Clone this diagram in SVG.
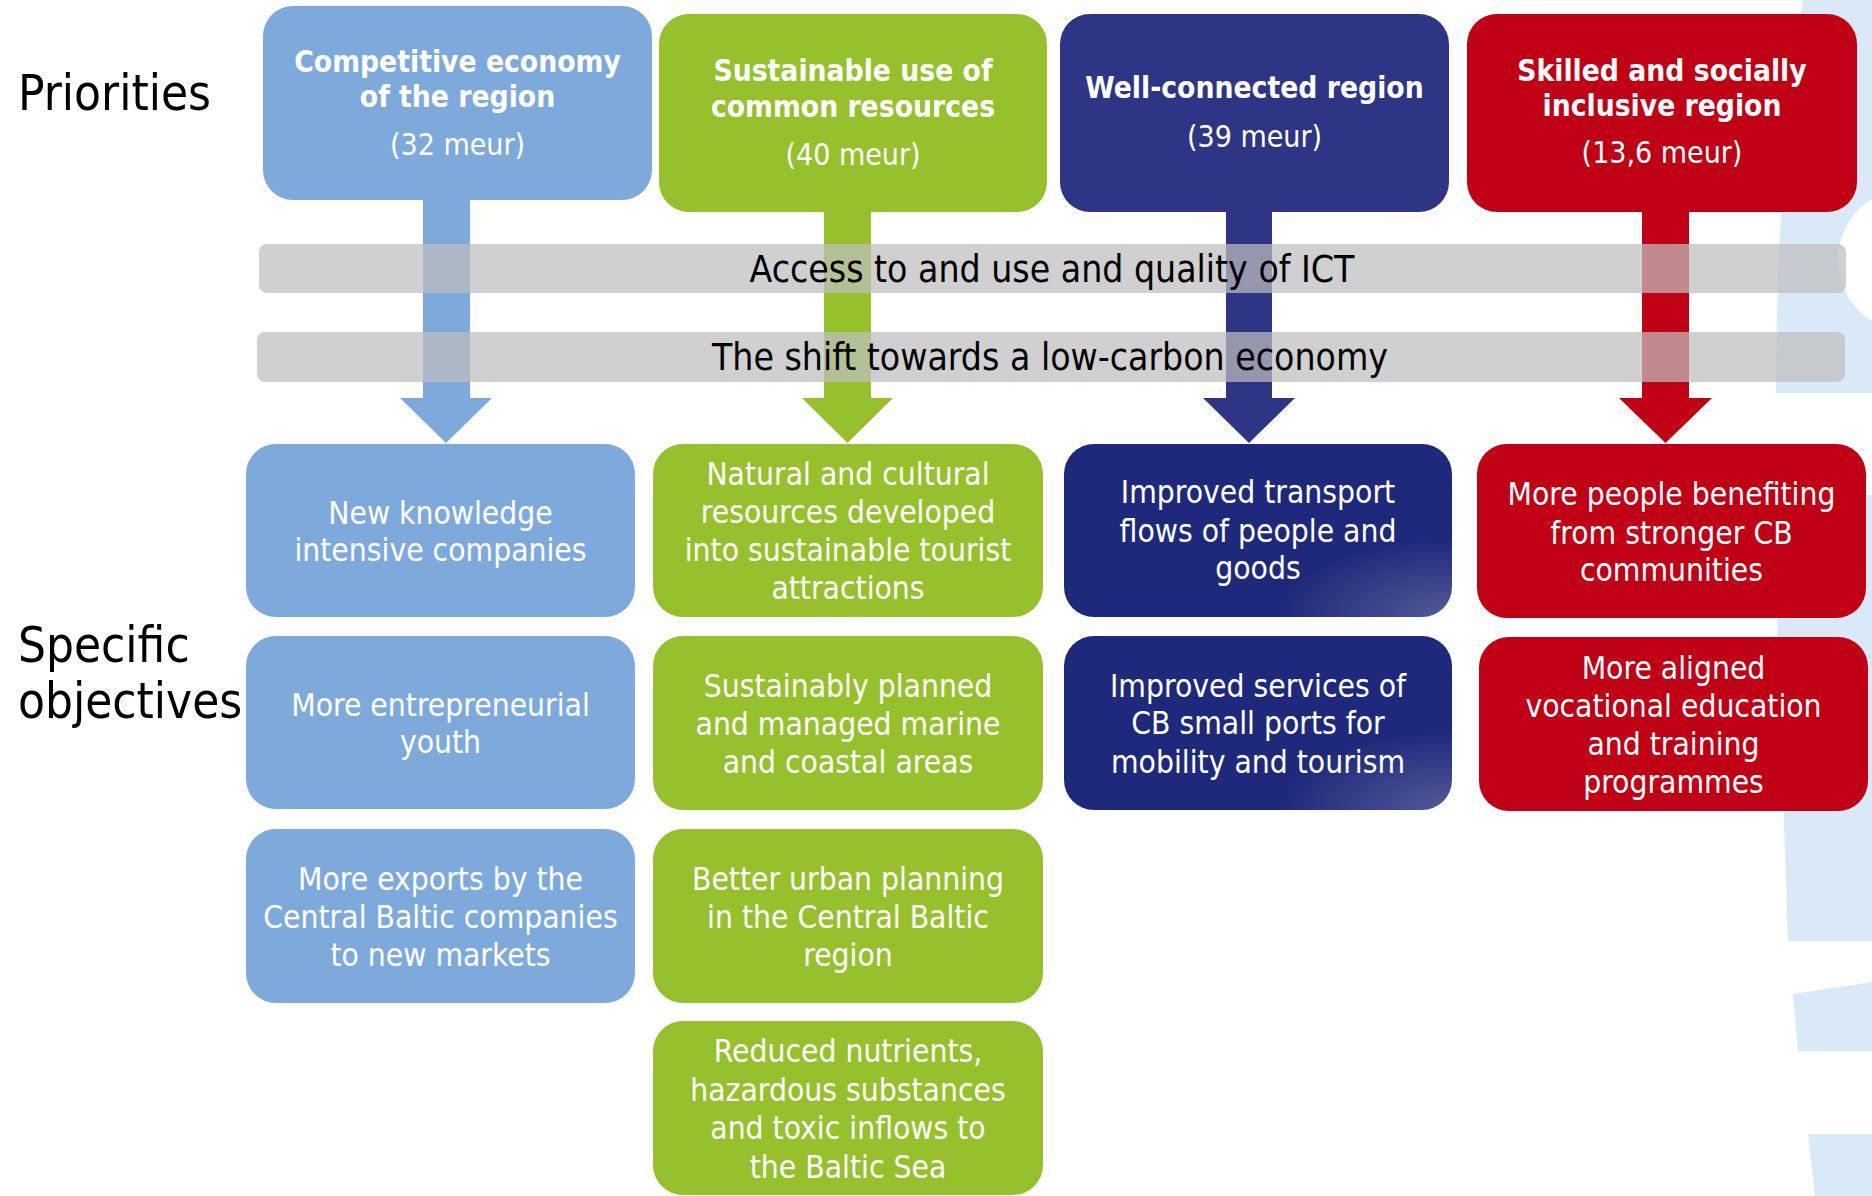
<svg xmlns="http://www.w3.org/2000/svg" width="1872" height="1196" viewBox="0 0 1872 1196">
<style>
.t{font-family:"DejaVu Sans Condensed","DejaVu Sans",sans-serif;font-stretch:condensed}
.pt{font-size:29.7px;font-weight:bold;fill:#fff;text-anchor:middle}
.pm{font-size:30px;fill:#fff;text-anchor:middle}
.ot{font-size:31.5px;fill:#fff;text-anchor:middle}
.bt{font-size:37px;fill:#000;text-anchor:middle}
.lbl{font-size:49px;fill:#000}
.wm{fill:#dae9f7}
.band{fill:#bebebe;fill-opacity:0.72}
.blue{fill:#7eaadb}
.green{fill:#96c12c}
.navy{fill:#2e3585}
.navyg{fill:url(#ng)}
.red{fill:#c00015}
</style>
<defs>
<radialGradient id="ng" cx="1" cy="1" r="0.45" fx="1" fy="1">
<stop offset="0" stop-color="#545a98"/>
<stop offset="1" stop-color="#1f297b"/>
</radialGradient>
</defs>
<rect width="1872" height="1196" fill="#fff"/>
<g id="watermark">
<path class="wm" d="M1803,0 L1872,0 L1872,393 L1776,393 C1776,250 1786,110 1803,0 Z"/>
<circle cx="1910" cy="260" r="72" fill="#fff"/>
<path class="wm" d="M1773,495 L1872,495 L1872,941 L1788,941 Z"/>
<path class="wm" d="M1793,994 L1872,982 L1872,1051 L1798,1051 Z"/>
<path class="wm" d="M1808,1134 L1872,1134 L1872,1196 L1815,1196 Z"/>
</g>
<g id="labels" class="t">
<text id="lbl-priorities" class="t lbl" x="18" y="110">Priorities</text>
<text id="lbl-objectives" class="t lbl" x="18" y="662">Specific<tspan x="18" y="718">objectives</tspan></text>
</g>
<g id="connectors">
<path class="blue" d="M423,198 L470,198 L470,398 L492,398 L446,443 L400,398 L423,398 Z"/>
<path class="green" d="M824,210 L871,210 L871,398 L893,398 L847.5,443 L802,398 L824,398 Z"/>
<path class="navy" d="M1226,210 L1272,210 L1272,398 L1295,398 L1249,443 L1203,398 L1226,398 Z"/>
<path class="red" d="M1642,210 L1689,210 L1689,398 L1712,398 L1665.5,443 L1619,398 L1642,398 Z"/>
</g>
<g id="p1" class="t">
<rect class="blue" x="263" y="6" width="389" height="194" rx="30"/>
<text class="t pt" x="457.5" y="72">Competitive economy</text>
<text class="t pt" x="457.5" y="107">of the region</text>
<text class="t pm" x="457.5" y="155">(32 meur)</text>
</g>
<g id="p2" class="t">
<rect class="green" x="659" y="14" width="388" height="198" rx="30"/>
<text class="t pt" x="853" y="81">Sustainable use of</text>
<text class="t pt" x="853" y="117">common resources</text>
<text class="t pm" x="853" y="165">(40 meur)</text>
</g>
<g id="p3" class="t">
<rect class="navy" x="1060" y="14" width="389" height="198" rx="30"/>
<text class="t pt" x="1254.5" y="98">Well-connected region</text>
<text class="t pm" x="1254.5" y="147">(39 meur)</text>
</g>
<g id="p4" class="t">
<rect class="red" x="1467" y="14" width="390" height="198" rx="30"/>
<text class="t pt" x="1662" y="81">Skilled and socially</text>
<text class="t pt" x="1662" y="116">inclusive region</text>
<text class="t pm" x="1662" y="163">(13,6 meur)</text>
</g>
<g id="band-ict" class="t">
<rect class="band" x="259" y="244" width="1587" height="49" rx="8"/>
<text class="t bt" x="1052" y="282">Access to and use and quality of ICT</text>
</g>
<g id="band-lowcarbon" class="t">
<rect class="band" x="257" y="332" width="1588" height="50" rx="8"/>
<text class="t bt" x="1050" y="370">The shift towards a low-carbon economy</text>
</g>
<g id="o1-1" class="t">
<rect class="blue" x="246" y="444" width="389" height="173" rx="30"/>
<text class="t ot" x="440.5" y="524">New knowledge</text>
<text class="t ot" x="440.5" y="561">intensive companies</text>
</g>
<g id="o1-2" class="t">
<rect class="blue" x="246" y="636" width="389" height="173" rx="30"/>
<text class="t ot" x="440.5" y="716">More entrepreneurial</text>
<text class="t ot" x="440.5" y="753">youth</text>
</g>
<g id="o1-3" class="t">
<rect class="blue" x="246" y="829" width="389" height="174" rx="30"/>
<text class="t ot" x="440.5" y="890">More exports by the</text>
<text class="t ot" x="440.5" y="928">Central Baltic companies</text>
<text class="t ot" x="440.5" y="966">to new markets</text>
</g>
<g id="o2-1" class="t">
<rect class="green" x="653" y="444" width="390" height="173" rx="30"/>
<text class="t ot" x="848" y="485">Natural and cultural</text>
<text class="t ot" x="848" y="523">resources developed</text>
<text class="t ot" x="848" y="561">into sustainable tourist</text>
<text class="t ot" x="848" y="599">attractions</text>
</g>
<g id="o2-2" class="t">
<rect class="green" x="653" y="636" width="390" height="174" rx="30"/>
<text class="t ot" x="848" y="697">Sustainably planned</text>
<text class="t ot" x="848" y="735">and managed marine</text>
<text class="t ot" x="848" y="773">and coastal areas</text>
</g>
<g id="o2-3" class="t">
<rect class="green" x="653" y="829" width="390" height="174" rx="30"/>
<text class="t ot" x="848" y="890">Better urban planning</text>
<text class="t ot" x="848" y="928">in the Central Baltic</text>
<text class="t ot" x="848" y="966">region</text>
</g>
<g id="o2-4" class="t">
<rect class="green" x="653" y="1021" width="390" height="174" rx="30"/>
<text class="t ot" x="848" y="1062">Reduced nutrients,</text>
<text class="t ot" x="848" y="1101">hazardous substances</text>
<text class="t ot" x="848" y="1139">and toxic inflows to</text>
<text class="t ot" x="848" y="1178">the Baltic Sea</text>
</g>
<g id="o3-1" class="t">
<rect class="navyg" x="1064" y="444" width="388" height="173" rx="30"/>
<text class="t ot" x="1258" y="503">Improved transport</text>
<text class="t ot" x="1258" y="542">flows of people and</text>
<text class="t ot" x="1258" y="579">goods</text>
</g>
<g id="o3-2" class="t">
<rect class="navyg" x="1064" y="636" width="388" height="174" rx="30"/>
<text class="t ot" x="1258" y="697">Improved services of</text>
<text class="t ot" x="1258" y="734">CB small ports for</text>
<text class="t ot" x="1258" y="773">mobility and tourism</text>
</g>
<g id="o4-1" class="t">
<rect class="red" x="1477" y="444" width="389" height="174" rx="30"/>
<text class="t ot" x="1671.5" y="505">More people benefiting</text>
<text class="t ot" x="1671.5" y="544">from stronger CB</text>
<text class="t ot" x="1671.5" y="581">communities</text>
</g>
<g id="o4-2" class="t">
<rect class="red" x="1479" y="637" width="389" height="174" rx="30"/>
<text class="t ot" x="1673.5" y="679">More aligned</text>
<text class="t ot" x="1673.5" y="717">vocational education</text>
<text class="t ot" x="1673.5" y="755">and training</text>
<text class="t ot" x="1673.5" y="793">programmes</text>
</g>
</svg>
